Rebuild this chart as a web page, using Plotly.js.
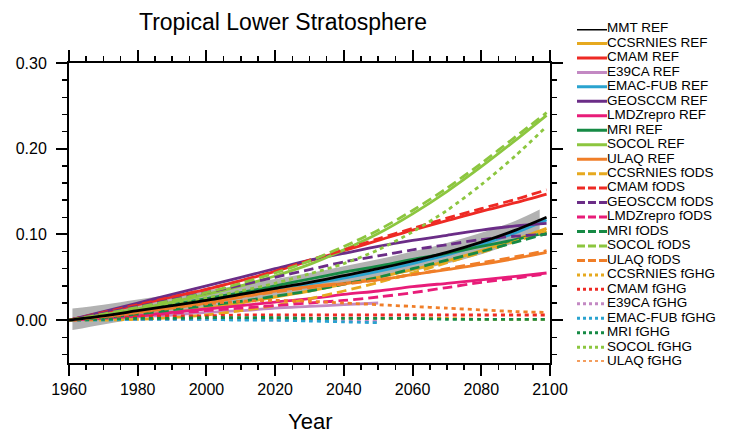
<!DOCTYPE html>
<html>
<head>
<meta charset="utf-8">
<script src="https://cdn.plot.ly/plotly-3.0.1.min.js"></script>
<style>
  html, body { margin: 0; padding: 0; background: #fff; }
  #chart { width: 737px; height: 434px; }
</style>
</head>
<body>
<div id="chart"></div>
<script>
// Sample years (most runs go to 2099; two runs stop in 2050)
const years       = [1960, 1970, 1980, 1990, 2000, 2010, 2020, 2030, 2040, 2050, 2060, 2070, 2080, 2090, 2099];
const yearsTo2050 = [1960, 1970, 1980, 1990, 2000, 2010, 2020, 2030, 2040, 2050];
const bandYears   = [1961, 1970, 1980, 1990, 2000, 2010, 2020, 2030, 2040, 2050, 2060, 2070, 2080, 2090, 2097];

// Multi-model trend and its uncertainty band
const mmtRef      = [0, 0.005, 0.011, 0.017, 0.023, 0.030, 0.037, 0.044, 0.052, 0.060, 0.069, 0.079, 0.091, 0.105, 0.120];
const mmtBandHigh = [0.0136, 0.018, 0.024, 0.030, 0.035, 0.041, 0.048, 0.055, 0.063, 0.071, 0.080, 0.090, 0.102, 0.116, 0.129];
const mmtBandLow  = [-0.0116, -0.005, 0.002, 0.007, 0.013, 0.019, 0.026, 0.034, 0.041, 0.049, 0.057, 0.066, 0.077, 0.091, 0.106];

// REF simulations
const ccsrniesRef = [0, 0.002, 0.005, 0.009, 0.014, 0.020, 0.027, 0.034, 0.042, 0.050, 0.059, 0.069, 0.081, 0.094, 0.107];
const cmamRef     = [0, 0.009, 0.018, 0.027, 0.036, 0.046, 0.057, 0.069, 0.081, 0.093, 0.105, 0.116, 0.127, 0.137, 0.147];
const e39caRef    = [0, 0.002, 0.004, 0.006, 0.009, 0.011, 0.014, 0.016, 0.018, 0.020];
const emacFubRef  = [0, 0.004, 0.009, 0.015, 0.021, 0.028, 0.035, 0.042, 0.049, 0.057, 0.066, 0.076, 0.088, 0.102, 0.117];
const geosccmRef  = [0, 0.010, 0.020, 0.030, 0.040, 0.050, 0.060, 0.070, 0.078, 0.086, 0.093, 0.099, 0.105, 0.110, 0.113];
const lmdzRef     = [0, 0.002, 0.005, 0.009, 0.013, 0.017, 0.021, 0.025, 0.030, 0.034, 0.039, 0.043, 0.047, 0.051, 0.055];
const mriRef      = [0, 0.005, 0.011, 0.018, 0.025, 0.032, 0.040, 0.048, 0.056, 0.063, 0.071, 0.078, 0.086, 0.094, 0.102];
const socolRef    = [0, 0.006, 0.013, 0.021, 0.030, 0.040, 0.0515, 0.065, 0.082, 0.101, 0.124, 0.150, 0.179, 0.210, 0.239];
const ulaqRef     = [0, 0.004, 0.009, 0.014, 0.020, 0.027, 0.034, 0.039, 0.043, 0.047, 0.053, 0.059, 0.065, 0.072, 0.079];

// fODS simulations
const ccsrniesOds = [0, 0.000, 0.001, 0.003, 0.006, 0.011, 0.017, 0.025, 0.034, 0.044, 0.055, 0.067, 0.079, 0.092, 0.104];
const cmamOds     = [0, 0.009, 0.018, 0.027, 0.036, 0.046, 0.057, 0.070, 0.082, 0.095, 0.107, 0.119, 0.130, 0.141, 0.152];
const geosccmOds  = [0, 0.008, 0.016, 0.024, 0.032, 0.041, 0.050, 0.059, 0.068, 0.075, 0.082, 0.088, 0.094, 0.098, 0.100];
const lmdzOds     = [0, 0.002, 0.005, 0.008, 0.011, 0.014, 0.017, 0.020, 0.023, 0.027, 0.032, 0.038, 0.044, 0.049, 0.054];
const mriOds      = [0, 0.003, 0.007, 0.012, 0.017, 0.022, 0.028, 0.034, 0.042, 0.050, 0.060, 0.070, 0.080, 0.091, 0.101];
const socolOds    = [0, 0.007, 0.015, 0.023, 0.032, 0.043, 0.055, 0.069, 0.086, 0.105, 0.128, 0.154, 0.183, 0.214, 0.242];
const ulaqOds     = [0, 0.004, 0.009, 0.015, 0.021, 0.027, 0.033, 0.038, 0.042, 0.047, 0.053, 0.060, 0.067, 0.074, 0.081];

// fGHG simulations
const ccsrniesGhg = [0, 0.001, 0.001, 0.002, 0.002, 0.002, 0.002, 0.002, 0.002, 0.002, 0.002, 0.002, 0.001, 0.001, 0.001];
const cmamGhg     = [0, 0.002, 0.004, 0.005, 0.005, 0.006, 0.006, 0.006, 0.006, 0.006, 0.006, 0.006, 0.006, 0.006, 0.006];
const e39caGhg    = [0, 0.001, 0.001, 0.001, 0.001, 0.001, 0.000, 0.000, -0.001, -0.001];
const emacFubGhg  = [0, 0.000, 0.001, 0.001, 0.001, 0.000, 0.000, -0.001, -0.002, -0.003];
const mriGhg      = [0, 0.001, 0.002, 0.002, 0.003, 0.003, 0.003, 0.002, 0.002, 0.002, 0.002, 0.001, 0.001, 0.001, 0.001];
const socolGhg    = [0, 0.006, 0.012, 0.019, 0.026, 0.034, 0.043, 0.054, 0.066, 0.082, 0.103, 0.128, 0.158, 0.192, 0.226];
const ulaqGhg     = [0, 0.004, 0.009, 0.014, 0.019, 0.022, 0.023, 0.022, 0.020, 0.018, 0.016, 0.014, 0.012, 0.010, 0.009];

// Model colours and line styles per experiment
const modelColors = {
  'MMT': '#000000', 'CCSRNIES': '#E6A91F', 'CMAM': '#EE2A24', 'E39CA': '#C389C3',
  'EMAC-FUB': '#2AA3CF', 'GEOSCCM': '#6B2D87', 'LMDZrepro': '#E81C79',
  'MRI': '#168A45', 'SOCOL': '#8CC63F', 'ULAQ': '#F07E28'
};
const plotDash   = { 'REF': 'solid', 'fODS': '10px,5px', 'fGHG': '4px,4px' };
const legendDash = { 'REF': 'solid', 'fODS': '8px,3px', 'fGHG': '3px,3px' };

// Series in legend order: [model, experiment, x, y]
const series = [
  ['MMT', 'REF', years, mmtRef],
  ['CCSRNIES', 'REF', years, ccsrniesRef],
  ['CMAM', 'REF', years, cmamRef],
  ['E39CA', 'REF', yearsTo2050, e39caRef],
  ['EMAC-FUB', 'REF', years, emacFubRef],
  ['GEOSCCM', 'REF', years, geosccmRef],
  ['LMDZrepro', 'REF', years, lmdzRef],
  ['MRI', 'REF', years, mriRef],
  ['SOCOL', 'REF', years, socolRef],
  ['ULAQ', 'REF', years, ulaqRef],
  ['CCSRNIES', 'fODS', years, ccsrniesOds],
  ['CMAM', 'fODS', years, cmamOds],
  ['GEOSCCM', 'fODS', years, geosccmOds],
  ['LMDZrepro', 'fODS', years, lmdzOds],
  ['MRI', 'fODS', years, mriOds],
  ['SOCOL', 'fODS', years, socolOds],
  ['ULAQ', 'fODS', years, ulaqOds],
  ['CCSRNIES', 'fGHG', years, ccsrniesGhg],
  ['CMAM', 'fGHG', years, cmamGhg],
  ['E39CA', 'fGHG', yearsTo2050, e39caGhg],
  ['EMAC-FUB', 'fGHG', yearsTo2050, emacFubGhg],
  ['MRI', 'fGHG', years, mriGhg],
  ['SOCOL', 'fGHG', years, socolGhg],
  ['ULAQ', 'fGHG', years, ulaqGhg]
];

const FONT = 'Liberation Sans, Arial, Helvetica, sans-serif';
const traces = [];

// Uncertainty band of the multi-model trend
traces.push({
  x: bandYears, y: mmtBandLow, mode: 'lines', line: { width: 0, shape: 'spline' },
  hoverinfo: 'skip', showlegend: false
});
traces.push({
  x: bandYears, y: mmtBandHigh, mode: 'lines', line: { width: 0, shape: 'spline' },
  fill: 'tonexty', fillcolor: '#B2B2B2', hoverinfo: 'skip', showlegend: false
});

// Model curves (multi-model trend drawn last so it sits on top)
const drawOrder = series.slice(1).concat([series[0]]);
drawOrder.forEach(([model, exp, x, y]) => {
  traces.push({
    x: x, y: y, mode: 'lines', name: model + ' ' + exp, showlegend: false,
    line: { color: modelColors[model], width: 2.8, dash: plotDash[exp], shape: 'spline', smoothing: 0.8 }
  });
});

// Key: one short sample line per series on its own hidden axes, label to the right
series.forEach(([model, exp], i) => {
  traces.push({
    x: [0, 1], y: [i, i], xaxis: 'x2', yaxis: 'y2', mode: 'lines', showlegend: false,
    hoverinfo: 'skip', cliponaxis: false,
    line: { color: modelColors[model], width: 3, dash: legendDash[exp] }
  });
});
traces.push({
  x: series.map(() => 1), y: series.map((s, i) => i),
  text: series.map(([model, exp]) => model + ' ' + exp),
  xaxis: 'x2', yaxis: 'y2', mode: 'text', textposition: 'middle right',
  textfont: { family: FONT, size: 13.5, color: '#000' },
  cliponaxis: false, showlegend: false, hoverinfo: 'skip'
});

const W = 737, H = 434;
const axisCommon = {
  showline: true, linecolor: '#000', linewidth: 2, mirror: 'ticks',
  ticks: 'outside', ticklen: 11, tickwidth: 2, tickcolor: '#000',
  showgrid: false, zeroline: false,
  tickfont: { family: FONT, size: 16, color: '#000' },
  fixedrange: true
};

const layout = {
  width: W, height: H,
  margin: { l: 0, r: 0, t: 0, b: 0 },
  paper_bgcolor: '#fff', plot_bgcolor: '#fff',
  font: { family: FONT, color: '#000' },
  showlegend: false,
  title: {
    text: 'Tropical Lower Stratosphere',
    x: 283 / W, xanchor: 'center', xref: 'container',
    y: 1 - 22 / H, yanchor: 'middle', yref: 'container',
    font: { family: FONT, size: 23, color: '#000' }
  },
  xaxis: Object.assign({}, axisCommon, {
    domain: [69 / W, 550 / W], anchor: 'y',
    range: [1960, 2100], tickmode: 'linear', tick0: 1960, dtick: 20,
    minor: { ticks: 'outside', dtick: 5, ticklen: 5, tickwidth: 1.5, tickcolor: '#000', showgrid: false },
    automargin: false
  }),
  yaxis: Object.assign({}, axisCommon, {
    domain: [(H - 363) / H, (H - 63) / H], anchor: 'x',
    range: [-0.05, 0.30], tickmode: 'linear', tick0: 0, dtick: 0.1, tickformat: '.2f',
    ticklabelstandoff: 6,
    minor: { ticks: 'outside', dtick: 0.02, ticklen: 5, tickwidth: 1.5, tickcolor: '#000', showgrid: false },
    automargin: false
  }),
  xaxis2: {
    domain: [577 / W, 607 / W], range: [0, 1], anchor: 'y2',
    visible: false, fixedrange: true
  },
  yaxis2: {
    domain: [(H - 361.7) / H, (H - 29) / H], range: [series.length - 1, 0], anchor: 'x2',
    visible: false, fixedrange: true
  },
  annotations: [{
    // x-axis title, centred under the plot area
    text: 'Year', xref: 'paper', yref: 'paper',
    x: (69 + 550) / 2 / W, y: (H - 421) / H, xanchor: 'center', yanchor: 'middle',
    showarrow: false, font: { family: FONT, size: 22, color: '#000' }
  }]
};

Plotly.newPlot('chart', traces, layout, { staticPlot: true, displayModeBar: false });
</script>
</body>
</html>
